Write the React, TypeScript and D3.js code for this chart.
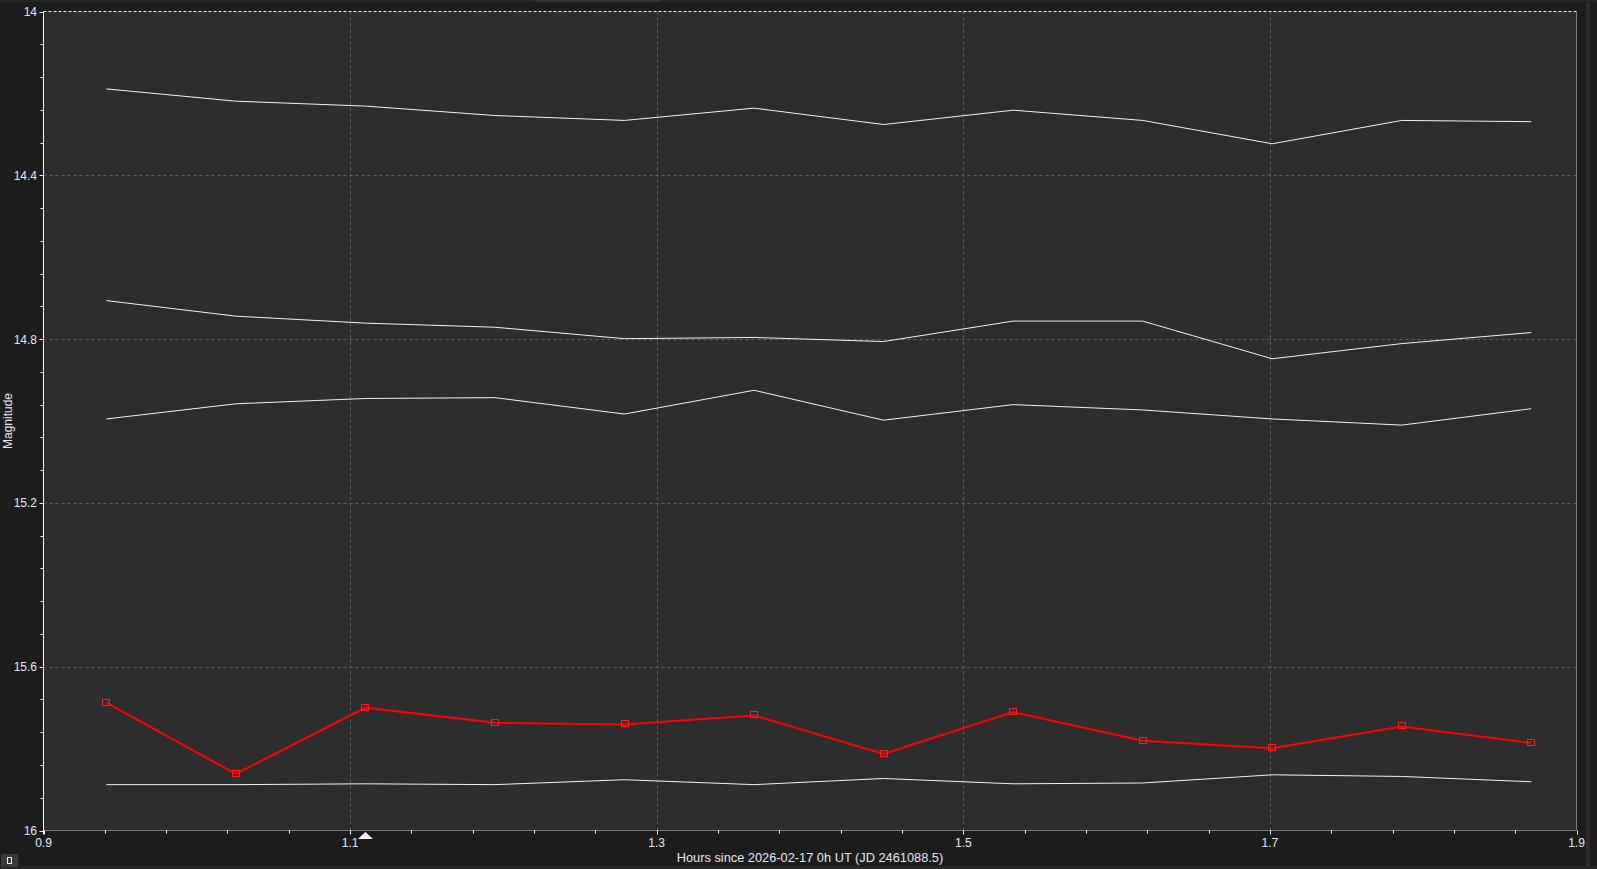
import * as d3 from 'd3';

const W = 1597;
const H = 869;

// hours since 2026-02-17 0h UT
const times = [0.941, 1.0255, 1.110, 1.1945, 1.279, 1.3635, 1.448, 1.5325, 1.617, 1.7015, 1.786, 1.8705];

const compA = [14.189, 14.219, 14.231, 14.254, 14.266, 14.236, 14.276, 14.241, 14.266, 14.323, 14.266, 14.269];
const compB = [14.706, 14.744, 14.761, 14.771, 14.799, 14.796, 14.806, 14.756, 14.756, 14.848, 14.811, 14.784];
const compC = [14.995, 14.958, 14.945, 14.943, 14.983, 14.925, 14.998, 14.960, 14.973, 14.995, 15.010, 14.970];
const target = [15.688, 15.862, 15.700, 15.737, 15.741, 15.719, 15.813, 15.711, 15.781, 15.799, 15.746, 15.786];
const compD = [15.888, 15.888, 15.886, 15.888, 15.876, 15.888, 15.873, 15.886, 15.884, 15.864, 15.868, 15.881];

const xMajor = [0.9, 1.1, 1.3, 1.5, 1.7, 1.9];
const yMajor = [14, 14.4, 14.8, 15.2, 15.6, 16];
const markerIndex = 2;

const FONT = '"Liberation Sans", Arial, sans-serif';
const TXT = '#e2e8f0';

export default function App() {
  const m = { left: 43.5, right: 1576.5, top: 11.5, bottom: 830.5 };
  const x = d3.scaleLinear().domain([0.9, 1.9]).range([m.left, m.right]);
  const y = d3.scaleLinear().domain([14, 16]).range([m.top, m.bottom]);

  const line = d3.line<number>()
    .x((_, i) => x(times[i]))
    .y(d => y(d));

  const xMinor = d3.range(0, 26).map(i => 0.9 + i * 0.04);
  const yMinor = d3.range(0, 26).map(i => 14 + i * 0.08);
  const fmt = (v: number) => String(+v.toFixed(1));

  const whites = [compA, compB, compC, compD];
  const tx = x(times[markerIndex]);

  return (
    <svg width={W} height={H} style={{ position: 'absolute', left: 0, top: 0, display: 'block' }}>
      <rect x={0} y={0} width={W} height={H} fill="#1c1c1c" />
      <rect x={0} y={0} width={W} height={2} fill="#262626" />
      <rect x={535} y={0} width={126} height={2} fill="#333" />
      <rect x={1586} y={3} width={4} height={H - 6} fill="#2a2a2a" />
      <rect x={0} y={866} width={W} height={3} fill="#262626" />

      <rect x={m.left} y={m.top} width={m.right - m.left} height={m.bottom - m.top} fill="#2d2d30" />

      {/* grid */}
      {xMajor.slice(1, -1).map(v => (
        <line key={'gx' + v} x1={Math.round(x(v)) + 0.5} x2={Math.round(x(v)) + 0.5} y1={m.top} y2={m.bottom}
          stroke="#5e5e5e" strokeDasharray="3,3" />
      ))}
      {yMajor.slice(1, -1).map(v => (
        <line key={'gy' + v} x1={m.left} x2={m.right} y1={Math.round(y(v)) + 0.5} y2={Math.round(y(v)) + 0.5}
          stroke="#5e5e5e" strokeDasharray="3,3" />
      ))}
      <line x1={m.left} x2={m.right} y1={m.top} y2={m.top} stroke="#f0f0f0" strokeDasharray="3,2" />

      {/* border */}
      <line x1={m.right} x2={m.right} y1={m.top} y2={m.bottom} stroke="#7a7a7a" />
      <line x1={m.left} x2={m.right} y1={m.bottom} y2={m.bottom} stroke="#7a7a7a" />
      <line x1={m.left} x2={m.left} y1={m.top} y2={m.bottom + 4} stroke="#f4f4f4" />

      {/* ticks */}
      {xMinor.map((v, i) => (
        <line key={'xt' + i} x1={Math.round(x(v)) + 0.5} x2={Math.round(x(v)) + 0.5}
          y1={m.bottom} y2={m.bottom + (i % 5 === 0 ? 4 : 3)} stroke="#f0f0f0" />
      ))}
      {yMinor.map((v, i) => (
        <line key={'yt' + i} x1={m.left - (i % 5 === 0 ? 4 : 3)} x2={m.left}
          y1={Math.round(y(v)) + 0.5} y2={Math.round(y(v)) + 0.5} stroke="#f0f0f0" />
      ))}

      {xMajor.map(v => (
        <text key={'xl' + v} x={x(v)} y={847} textAnchor="middle" fill={TXT} fontFamily={FONT} fontSize={12}>
          {fmt(v)}
        </text>
      ))}
      {yMajor.map(v => (
        <text key={'yl' + v} x={37} y={y(v) + 4.5} textAnchor="end" fill={TXT} fontFamily={FONT} fontSize={12}>
          {fmt(v)}
        </text>
      ))}

      <text x={(m.left + m.right) / 2} y={862} textAnchor="middle" fill={TXT} fontFamily={FONT} fontSize={12.8}>
        Hours since 2026-02-17 0h UT (JD 2461088.5)
      </text>
      <text transform={`translate(12,${(m.top + m.bottom) / 2}) rotate(-90)`} textAnchor="middle"
        fill={TXT} fontFamily={FONT} fontSize={12}>
        Magnitude
      </text>

      {/* comparison stars */}
      {whites.map((s, i) => (
        <path key={'w' + i} d={line(s) || ''} fill="none" stroke="#f2f2f2" strokeWidth={1} />
      ))}

      {/* target */}
      <path d={line(target) || ''} fill="none" stroke="#ff0000" strokeWidth={2} />
      {target.map((v, i) => (
        <rect key={'m' + i} x={Math.round(x(times[i])) - 3.5} y={Math.round(y(v)) - 3.5} width={7} height={6}
          fill="none" stroke="#ff1a1a" strokeWidth={1} />
      ))}

      {/* selected time marker */}
      <path d={`M${tx},${m.bottom + 1.5} L${tx + 7.5},${m.bottom + 8.5} L${tx - 7.5},${m.bottom + 8.5} Z`} fill="#f4f4f4" />

      {/* small corner button */}
      <rect x={1} y={854} width={17} height={13} fill="#3a3a3a" />
      <rect x={7.5} y={857.5} width={4} height={6} fill="none" stroke="#e8e8e8" />
    </svg>
  );
}
